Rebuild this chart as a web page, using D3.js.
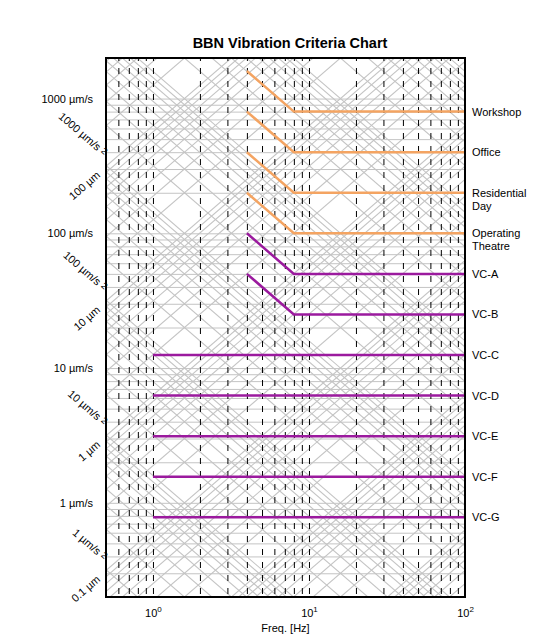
<!DOCTYPE html>
<html>
<head>
<meta charset="utf-8">
<script src="https://cdn.jsdelivr.net/npm/d3@7"></script>
<style>
  body { margin:0; background:#fff; }
  svg { font-family: "Liberation Sans", Arial, sans-serif; }
</style>
</head>
<body>
<svg id="chart" width="548" height="641"></svg>
<script>
// ---- data ----
const seriesNames = ["Workshop","Office","Residential Day","Operating Theatre","VC-A","VC-B","VC-C","VC-D","VC-E","VC-F","VC-G"];
const seriesLabelLines = [["Workshop"],["Office"],["Residential","Day"],["Operating","Theatre"],["VC-A"],["VC-B"],["VC-C"],["VC-D"],["VC-E"],["VC-F"],["VC-G"]];
const seriesFreqs = [
  [4,8,100],[4,8,100],[4,8,100],[4,8,100],[4,8,100],[4,8,100],
  [1,100],[1,100],[1,100],[1,100],[1,100]
];
const seriesVelocities = [
  [1600,800,800],[800,400,400],[400,200,200],[200,100,100],[100,50,50],[50,25,25],
  [12.5,12.5],[6.25,6.25],[3.12,3.12],[1.56,1.56],[0.78,0.78]
];
const seriesGroup = ["iso","iso","iso","iso","vc","vc","vc","vc","vc","vc","vc"];

const freqDomain = [0.5,100];
const velDomain = [0.2,2000];
const freqTickValues = [1,10,100];
const freqTickExps = ["0","1","2"];
const freqGridValues = [0.6,0.7,0.8,0.9,1,2,3,4,5,6,7,8,9,10,20,30,40,50,60,70,80,90];
const velLabelValues = [1,10,100,1000];
const velLabels = ["1 \u00b5m/s","10 \u00b5m/s","100 \u00b5m/s","1000 \u00b5m/s"];
const accLabelValues = [1,10,100,1000];     // µm/s²
const accLabels = ["1 \u00b5m/s","10 \u00b5m/s","100 \u00b5m/s","1000 \u00b5m/s"];
const dispLabelValues = [0.1,1,10,100];     // µm
const dispLabels = ["0.1 \u00b5m","1 \u00b5m","10 \u00b5m","100 \u00b5m"];
const gridMantissas = [1,2,3,4,5,6,7,8,9];
const velGridExps = [-1,0,1,2,3];
const accGridExps = [0,1,2,3,4,5,6];
const dispGridExps = [-4,-3,-2,-1,0,1,2];

// ---- layout ----
const svg = d3.select("#chart");
const L = 106, R = 465, T = 58, B = 597;
const x = d3.scaleLog().domain(freqDomain).range([L,R]);
const y = d3.scaleLog().domain(velDomain).range([B,T]);
const colors = {iso:"#f4a462", vc:"#9b1a9e"};
const gridColor = "#c4c4c4";

svg.append("defs").append("clipPath").attr("id","plotclip")
  .append("rect").attr("x",L).attr("y",T).attr("width",R-L).attr("height",B-T);

const plot = svg.append("g").attr("clip-path","url(#plotclip)");

// diagonal grid: constant acceleration (v = a / 2πf) and constant displacement (v = 2πf d)
const line = d3.line().x(d=>x(d[0])).y(d=>y(d[1]));
const fEnds = [0.5*0.5, 100*2];
accGridExps.forEach(k => gridMantissas.forEach(mm => {
  const a = mm*Math.pow(10,k);
  plot.append("path").attr("d", line(fEnds.map(f=>[f, a/(2*Math.PI*f)])))
    .attr("fill","none").attr("stroke",gridColor).attr("stroke-width",1.1);
}));
dispGridExps.forEach(k => gridMantissas.forEach(mm => {
  const dd = mm*Math.pow(10,k);
  plot.append("path").attr("d", line(fEnds.map(f=>[f, 2*Math.PI*f*dd])))
    .attr("fill","none").attr("stroke",gridColor).attr("stroke-width",1.1);
}));

// horizontal velocity grid
const velGridValues = [];
velGridExps.forEach(k => gridMantissas.forEach(mm => {
  const v = mm*Math.pow(10,k);
  if (v > velDomain[0] && v < velDomain[1]) velGridValues.push(v);
}));
const hGrid = svg.append("g").attr("transform",`translate(${L},0)`)
  .call(d3.axisLeft(y).tickValues(velGridValues).tickSize(-(R-L)).tickFormat(""));
hGrid.select(".domain").remove();
hGrid.selectAll("line").attr("stroke",gridColor).attr("stroke-width",1);

// vertical dashed frequency grid
const vGrid = svg.append("g").attr("transform",`translate(0,${B})`)
  .call(d3.axisBottom(x).tickValues(freqGridValues).tickSize(-(B-T)).tickFormat(""));
vGrid.select(".domain").remove();
vGrid.selectAll("line").attr("stroke","#000").attr("stroke-width",1)
  .attr("stroke-dasharray","6,7").attr("stroke-dashoffset",-3);

// criteria curves (on top of grids)
const curves = svg.append("g").attr("clip-path","url(#plotclip)");
seriesNames.forEach((name,i) => {
  const pts = seriesFreqs[i].map((f,j)=>[f, seriesVelocities[i][j]]);
  curves.append("path").attr("d", line(pts)).attr("fill","none")
    .attr("stroke", colors[seriesGroup[i]]).attr("stroke-width",2.5);
  const lastV = seriesVelocities[i][seriesVelocities[i].length-1];
  const t = svg.append("text").attr("x",R+7).attr("y",y(lastV)+4)
    .attr("font-size",11).attr("fill","#000");
  seriesLabelLines[i].forEach((s,j)=>{
    t.append("tspan").attr("x",R+7).attr("dy", j===0?0:13).text(s);
  });
});

// frame
svg.append("rect").attr("x",L).attr("y",T).attr("width",R-L).attr("height",B-T)
  .attr("fill","none").attr("stroke","#000").attr("stroke-width",2);

// bottom axis labels (10^n)
const xAxis = svg.append("g").attr("transform",`translate(0,${B})`)
  .call(d3.axisBottom(x).tickValues(freqTickValues).tickSize(0).tickPadding(12).tickFormat(()=>""));
xAxis.select(".domain").remove();
xAxis.selectAll(".tick text").each(function(d,i){
  const t = d3.select(this).attr("font-size",11).attr("font-family","Liberation Sans, Arial, sans-serif").attr("fill","#000");
  t.append("tspan").text("10");
  t.append("tspan").attr("font-size",8).attr("dy",-5).text(freqTickExps[i]);
});
svg.append("text").attr("x",(L+R)/2).attr("y",632).attr("text-anchor","middle")
  .attr("font-size",11).text("Freq. [Hz]");

// velocity labels (left)
const yAxis = svg.append("g").attr("transform",`translate(${L},0)`)
  .call(d3.axisLeft(y).tickValues(velLabelValues).tickSize(0).tickPadding(13)
    .tickFormat((d,i)=>velLabels[i]));
yAxis.select(".domain").remove();
yAxis.selectAll(".tick text").attr("font-size",11).attr("font-family","Liberation Sans, Arial, sans-serif").attr("fill","#000");

// acceleration and displacement labels at left edge
const ang = Math.atan((y(1)-y(10))/(x(10)-x(1)))*180/Math.PI;
const f0 = freqDomain[0];
accLabelValues.forEach((a,i)=>{
  const yc = y(a/(2*Math.PI*f0));
  const t = svg.append("text").attr("text-anchor","end").attr("font-size",11)
    .attr("transform",`translate(${L-3},${yc-9}) rotate(${ang})`);
  t.append("tspan").text(accLabels[i]+" ");
  t.append("tspan").attr("font-size",9).attr("dy",-2).text("2");
});
dispLabelValues.forEach((dd,i)=>{
  const yc = y(2*Math.PI*f0*dd);
  svg.append("text").attr("text-anchor","end").attr("font-size",11)
    .attr("transform",`translate(${L-5},${yc+10}) rotate(${-ang})`)
    .text(dispLabels[i]);
});

// title
svg.append("text").attr("x",290).attr("y",48).attr("text-anchor","middle")
  .attr("font-size",14.5).attr("font-weight","bold").text("BBN Vibration Criteria Chart");
</script>
</body>
</html>
